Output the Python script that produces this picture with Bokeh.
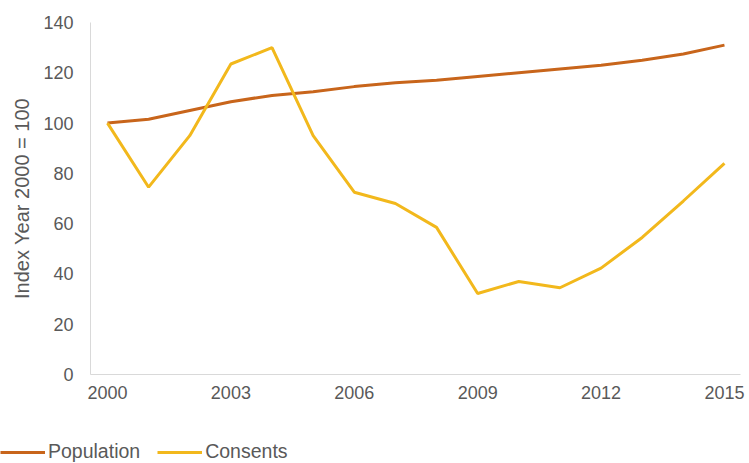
from bokeh.plotting import figure
from bokeh.layouts import column, row
from bokeh.models import Range1d, Legend, LegendItem, FixedTicker
from bokeh.embed import file_html
from bokeh.resources import INLINE

years = list(range(2000, 2016))
population = [100, 101.5, 105, 108.5, 111, 112.5, 114.5, 116, 117, 118.5, 120, 121.5, 123, 125, 127.5, 131]
consents = [100, 74.5, 95, 123.5, 130, 95, 72.5, 68, 58.5, 32.2, 37, 34.5, 42.3, 54.5, 69, 84]
x_ticks = [2000, 2003, 2006, 2009, 2012, 2015]
y_ticks = [0, 20, 40, 60, 80, 100, 120, 140]
series_names = ["Population", "Consents"]
series_colors = ["#C8651B", "#F2B81C"]

FONT = "Liberation Sans"
TXT = "#595959"

p = figure(width=749, height=410, output_backend="svg", toolbar_location=None,
           x_range=Range1d(1999.587, 2015.39), y_range=Range1d(0, 140),
           min_border_left=90, min_border_right=9, min_border_top=22, min_border_bottom=36)
p.outline_line_color = None
p.xgrid.grid_line_color = None
p.ygrid.grid_line_color = None

p.line(years, population, line_color=series_colors[0], line_width=3)
p.line(years, consents, line_color=series_colors[1], line_width=3)

for ax in (p.xaxis[0], p.yaxis[0]):
    ax.axis_line_color = "#D9D9D9"
    ax.major_tick_line_color = None
    ax.minor_tick_line_color = None
    ax.major_label_text_font = FONT
    ax.major_label_text_font_size = "18px"
    ax.major_label_text_color = TXT

p.xaxis.ticker = FixedTicker(ticks=x_ticks)
p.yaxis.ticker = FixedTicker(ticks=y_ticks)
p.xaxis.major_label_standoff = 5
p.yaxis.major_label_standoff = 11
p.yaxis.axis_label = "Index Year 2000 = 100"
p.yaxis.axis_label_text_font = FONT
p.yaxis.axis_label_text_font_size = "20px"
p.yaxis.axis_label_text_font_style = "normal"
p.yaxis.axis_label_text_color = TXT
p.yaxis.axis_label_standoff = 7

# legend strip below the chart (series drawn off-range, only their legend samples show)
q = figure(width=749, height=53, output_backend="svg", toolbar_location=None,
           x_range=Range1d(0, 1), y_range=Range1d(0, 1),
           x_axis_type=None, y_axis_type=None,
           min_border_left=0, min_border_right=0, min_border_top=0, min_border_bottom=0)
q.outline_line_color = None
q.xgrid.grid_line_color = None
q.ygrid.grid_line_color = None
items = []
for name, col, vals in zip(series_names, series_colors, [population, consents]):
    rr = q.line(years, vals, line_color=col, line_width=3)
    items.append(LegendItem(label=name, renderers=[rr]))
legend = Legend(items=items, location="bottom_left", orientation="horizontal",
                glyph_width=45, glyph_height=20, label_standoff=3, spacing=17,
                padding=0, margin=0, border_line_color=None, background_fill_alpha=0,
                label_text_font=FONT, label_text_font_size="19.5px", label_text_color=TXT)
q.add_layout(legend, "center")

layout = column(p, row(q, spacing=0), spacing=0)
open("out.html", "w").write(file_html(layout, INLINE))
